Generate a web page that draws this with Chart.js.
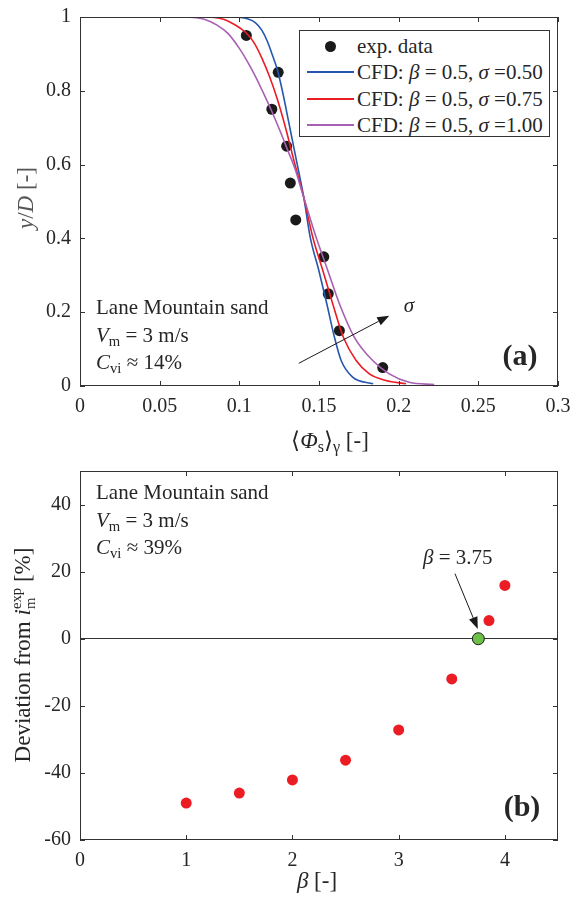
<!DOCTYPE html>
<html>
<head>
<meta charset="utf-8">
<script src="https://cdn.jsdelivr.net/npm/chart.js@4.4.1/dist/chart.umd.min.js"></script>
<style>
  body { margin: 0; background: #fff; }
  #wrap { position: relative; width: 571px; height: 898px; font-family: "Liberation Serif", "Times New Roman", serif; color: #262626; overflow: hidden; }
  canvas { position: absolute; left: 0; }
  .txt { position: absolute; white-space: nowrap; line-height: 1; transform: translateY(-50%); font-size: 21px; }
  .txt sub, .rot sub { font-size: 0.7em; vertical-align: -0.3em; line-height: 0; }
  .rot { position: absolute; white-space: nowrap; line-height: 1; font-size: 23px; transform: translate(-50%, -50%) rotate(-90deg); }
  .ctr { transform: translate(-50%, -50%); }
  .title { font-size: 23px; }
  .bold { font-weight: bold; font-size: 30px; }
  .ss { display: inline-block; vertical-align: -0.32em; font-size: 0.64em; line-height: 0.95; text-align: left; }
  .ss span { display: block; }
  #legend { position: absolute; left: 299px; top: 30px; width: 251px; height: 107px; border: 1px solid #333; background: #fff; box-sizing: border-box; }
  #legend .row { position: absolute; left: 0; width: 100%; height: 0; }
  #legend .sample { position: absolute; left: 7px; width: 47px; top: -1px; height: 0; border-top: 2px solid; }
  #legend .dot { position: absolute; left: 25px; top: -5.5px; width: 11px; height: 11px; border-radius: 50%; }
  #legend .lab { position: absolute; left: 57px; top: 0; font-size: 21px; line-height: 1; transform: translateY(-50%); white-space: nowrap; }
</style>
</head>
<body>
<div id="wrap">
  <canvas id="profileChart" width="571" height="450" style="top:0"></canvas>
  <canvas id="betaChart" width="571" height="448" style="top:450px"></canvas>

  <div class="rot" style="left:25px; top:198px; color:#555"><i>y</i>/<i>D</i> [-]</div>
  <div class="txt ctr title" style="left:330px; top:440px">⟨<i>Φ</i><sub>s</sub>⟩<sub>γ</sub> [-]</div>
  <div class="txt" style="left:96px; top:307px">Lane Mountain sand</div>
  <div class="txt" style="left:96px; top:335px"><i>V</i><sub>m</sub> = 3 m/s</div>
  <div class="txt" style="left:96px; top:362px"><i>C</i><sub>vi</sub> ≈ 14%</div>
  <div class="txt ctr" style="left:409px; top:305px"><i>σ</i></div>
  <div class="txt ctr bold" style="left:520px; top:355px">(a)</div>
  <div id="legend"></div>

  <div class="rot" style="left:24px; top:655px">Deviation from <i>i</i><span class="ss"><span>exp</span><span>m</span></span> [%]</div>
  <div class="txt ctr title" style="left:317px; top:880px"><i>β</i> [-]</div>
  <div class="txt" style="left:96px; top:492px">Lane Mountain sand</div>
  <div class="txt" style="left:96px; top:520px"><i>V</i><sub>m</sub> = 3 m/s</div>
  <div class="txt" style="left:96px; top:547px"><i>C</i><sub>vi</sub> ≈ 39%</div>
  <div class="txt" style="left:423px; top:557px"><i>β</i> = 3.75</div>
  <div class="txt ctr bold" style="left:522px; top:806px">(b)</div>
</div>

<script>
// (a) concentration profiles
const expPhi = [0.1044, 0.1244, 0.1204, 0.1297, 0.1320, 0.1354, 0.1530, 0.1558, 0.1628, 0.1900];
const expY   = [0.95, 0.85, 0.75, 0.65, 0.55, 0.45, 0.35, 0.25, 0.15, 0.05];

const cfd050Phi = [0.0985, 0.1050, 0.1100, 0.1140, 0.1175, 0.1205, 0.1240, 0.1275, 0.1310, 0.1345, 0.1380, 0.1405, 0.1445, 0.1499, 0.1549, 0.1597, 0.1639, 0.1711, 0.1840];
const cfd050Y   = [1.000, 0.995, 0.985, 0.965, 0.935, 0.900, 0.855, 0.790, 0.715, 0.640, 0.565, 0.510, 0.403, 0.313, 0.223, 0.132, 0.069, 0.024, 0.006];

const cfd075Phi = [0.0814, 0.0900, 0.0980, 0.1040, 0.1090, 0.1140, 0.1190, 0.1240, 0.1290, 0.1345, 0.1405, 0.1461, 0.1524, 0.1586, 0.1653, 0.1733, 0.1816, 0.1920, 0.2046];
const cfd075Y   = [1.000, 0.994, 0.977, 0.958, 0.932, 0.890, 0.838, 0.775, 0.700, 0.607, 0.510, 0.403, 0.313, 0.223, 0.132, 0.069, 0.033, 0.015, 0.006];

const cfd100Phi = [0.0676, 0.0780, 0.0860, 0.0930, 0.1000, 0.1050, 0.1100, 0.1150, 0.1200, 0.1250, 0.1300, 0.1350, 0.1405, 0.1482, 0.1555, 0.1628, 0.1722, 0.1837, 0.1941, 0.2066, 0.2223];
const cfd100Y   = [1.000, 0.994, 0.978, 0.955, 0.915, 0.880, 0.840, 0.795, 0.748, 0.697, 0.643, 0.588, 0.510, 0.403, 0.313, 0.223, 0.132, 0.069, 0.033, 0.010, 0.004];

const phiTicks = [0, 0.05, 0.1, 0.15, 0.2, 0.25, 0.3];
const yDTicks = [0, 0.2, 0.4, 0.6, 0.8, 1];

// (b) deviation vs beta
const betaVals = [1, 1.5, 2, 2.5, 3, 3.5, 3.85, 4];
const deviation = [-49, -46, -42.1, -36.2, -27.2, -12.0, 5.4, 15.9];
const bestBeta = [3.75];
const bestDev = [0];

const betaTicks = [0, 1, 2, 3, 4];
const devTicks = [-60, -40, -20, 0, 20, 40];

// arrow annotations in data units
const sigmaArrow = { from: [0.1373, 0.0615], to: [0.1941, 0.1905] };
const betaArrow = { from: [3.53, 19.4], to: [3.745, 2.9] };

const axisColor = '#262626';
const tickFont = { family: '"Liberation Serif", "Times New Roman", serif', size: 20 };

function pts(xs, ys) {
    return xs.map((x, i) => ({ x: x, y: ys[i] }));
}

function fmt(v) {
    return String(+v.toFixed(2));
}

function linAxis(min, max, ticks, size, isX) {
    return {
        type: 'linear',
        min: min,
        max: max,
        border: { display: false },
        grid: { drawOnChartArea: false, drawTicks: false },
        ticks: { font: tickFont, color: axisColor, padding: 9, autoSkip: false, maxRotation: 0, callback: fmt },
        afterBuildTicks: scale => { scale.ticks = ticks.map(v => ({ value: v })); },
        afterFit: scale => {
            if (isX) { scale.height = size; scale.paddingLeft = 0; scale.paddingRight = 0; }
            else { scale.width = size; scale.paddingTop = 0; scale.paddingBottom = 0; }
        }
    };
}

function drawArrow(chart, arrow) {
    const ctx = chart.ctx;
    const xs = chart.scales.x, ys = chart.scales.y;
    const x0 = xs.getPixelForValue(arrow.from[0]), y0 = ys.getPixelForValue(arrow.from[1]);
    const x1 = xs.getPixelForValue(arrow.to[0]), y1 = ys.getPixelForValue(arrow.to[1]);
    const a = Math.atan2(y1 - y0, x1 - x0);
    const len = 12, half = 4.5;
    const bx = x1 - len * Math.cos(a), by = y1 - len * Math.sin(a);
    ctx.save();
    ctx.strokeStyle = '#1a1a1a';
    ctx.fillStyle = '#1a1a1a';
    ctx.lineWidth = 1;
    ctx.beginPath();
    ctx.moveTo(x0, y0);
    ctx.lineTo(bx, by);
    ctx.stroke();
    ctx.beginPath();
    ctx.moveTo(x1, y1);
    ctx.lineTo(bx + half * Math.sin(a), by - half * Math.cos(a));
    ctx.lineTo(bx - half * Math.sin(a), by + half * Math.cos(a));
    ctx.closePath();
    ctx.fill();
    ctx.restore();
}

// MATLAB-like box with inward ticks
const boxPlugin = {
    id: 'box',
    afterDatasetsDraw(chart, args, opts) {
        if (opts.arrow) drawArrow(chart, opts.arrow);
    },
    afterDraw(chart) {
        const ctx = chart.ctx;
        const a = chart.chartArea;
        const xs = chart.scales.x, ys = chart.scales.y;
        ctx.save();
        ctx.strokeStyle = '#333';
        ctx.lineWidth = 1;
        ctx.strokeRect(a.left + 0.5, a.top + 0.5, a.right - a.left - 1, a.bottom - a.top - 1);
        ctx.beginPath();
        xs.ticks.forEach(t => {
            const p = Math.round(xs.getPixelForValue(t.value)) + 0.5;
            ctx.moveTo(p, a.bottom); ctx.lineTo(p, a.bottom - 5);
            ctx.moveTo(p, a.top); ctx.lineTo(p, a.top + 5);
        });
        ys.ticks.forEach(t => {
            const p = Math.round(ys.getPixelForValue(t.value)) + 0.5;
            ctx.moveTo(a.left, p); ctx.lineTo(a.left + 5, p);
            ctx.moveTo(a.right, p); ctx.lineTo(a.right - 5, p);
        });
        ctx.stroke();
        ctx.restore();
    }
};

const profileChart = new Chart(document.getElementById('profileChart'), {
    type: 'scatter',
    data: {
        datasets: [
            { label: 'exp. data', data: pts(expPhi, expY), backgroundColor: '#1a1a1a', borderColor: '#1a1a1a', pointRadius: 5.5, pointBorderWidth: 0, order: 4 },
            { label: 'CFD: β = 0.5, σ =0.50', data: pts(cfd050Phi, cfd050Y), showLine: true, borderColor: '#2457ad', borderWidth: 1.6, pointRadius: 0, cubicInterpolationMode: 'monotone', order: 3 },
            { label: 'CFD: β = 0.5, σ =0.75', data: pts(cfd075Phi, cfd075Y), showLine: true, borderColor: '#ec1c24', borderWidth: 1.6, pointRadius: 0, cubicInterpolationMode: 'monotone', order: 2 },
            { label: 'CFD: β = 0.5, σ =1.00', data: pts(cfd100Phi, cfd100Y), showLine: true, borderColor: '#a760b3', borderWidth: 1.6, pointRadius: 0, cubicInterpolationMode: 'monotone', order: 1 }
        ]
    },
    options: {
        responsive: false,
        animation: false,
        devicePixelRatio: 1,
        layout: { padding: { top: 17, right: 13, left: 0, bottom: 0 } },
        scales: {
            x: linAxis(0, 0.3, phiTicks, 64, true),
            y: linAxis(0, 1, yDTicks, 80, false)
        },
        plugins: {
            legend: { display: false },
            tooltip: { enabled: false },
            box: { arrow: sigmaArrow }
        }
    },
    plugins: [boxPlugin]
});

const devY = linAxis(-60, 50, devTicks, 80, false);
devY.grid = { drawOnChartArea: true, drawTicks: false, color: c => c.tick && c.tick.value === 0 ? '#333' : 'rgba(0,0,0,0)', lineWidth: 1 };

const betaChart = new Chart(document.getElementById('betaChart'), {
    type: 'scatter',
    data: {
        datasets: [
            { label: 'best fit', data: pts(bestBeta, bestDev), backgroundColor: '#6cbf47', borderColor: '#1a1a1a', borderWidth: 1, pointRadius: 6 },
            { label: 'deviation', data: pts(betaVals, deviation), backgroundColor: '#ec1c24', borderColor: '#ec1c24', pointRadius: 5.5, pointBorderWidth: 0 }
        ]
    },
    options: {
        responsive: false,
        animation: false,
        devicePixelRatio: 1,
        layout: { padding: { top: 21, right: 13, left: 0, bottom: 0 } },
        scales: {
            x: linAxis(0, 4.5, betaTicks, 58, true),
            y: devY
        },
        plugins: {
            legend: { display: false },
            tooltip: { enabled: false },
            box: { arrow: betaArrow }
        }
    },
    plugins: [boxPlugin]
});

// html legend built from the profile datasets
const legendBox = document.getElementById('legend');
const rowTops = [15, 41.4, 67.8, 94.2];
profileChart.data.datasets.forEach((ds, i) => {
    const row = document.createElement('div');
    row.className = 'row';
    row.style.top = rowTops[i] + 'px';
    const mark = ds.showLine
        ? `<div class="sample" style="border-color:${ds.borderColor}"></div>`
        : `<div class="dot" style="background:${ds.backgroundColor}"></div>`;
    const label = ds.label.replace('β', '<i>β</i>').replace('σ', '<i>σ</i>');
    row.innerHTML = mark + `<div class="lab">${label}</div>`;
    legendBox.appendChild(row);
});
</script>
</body>
</html>
